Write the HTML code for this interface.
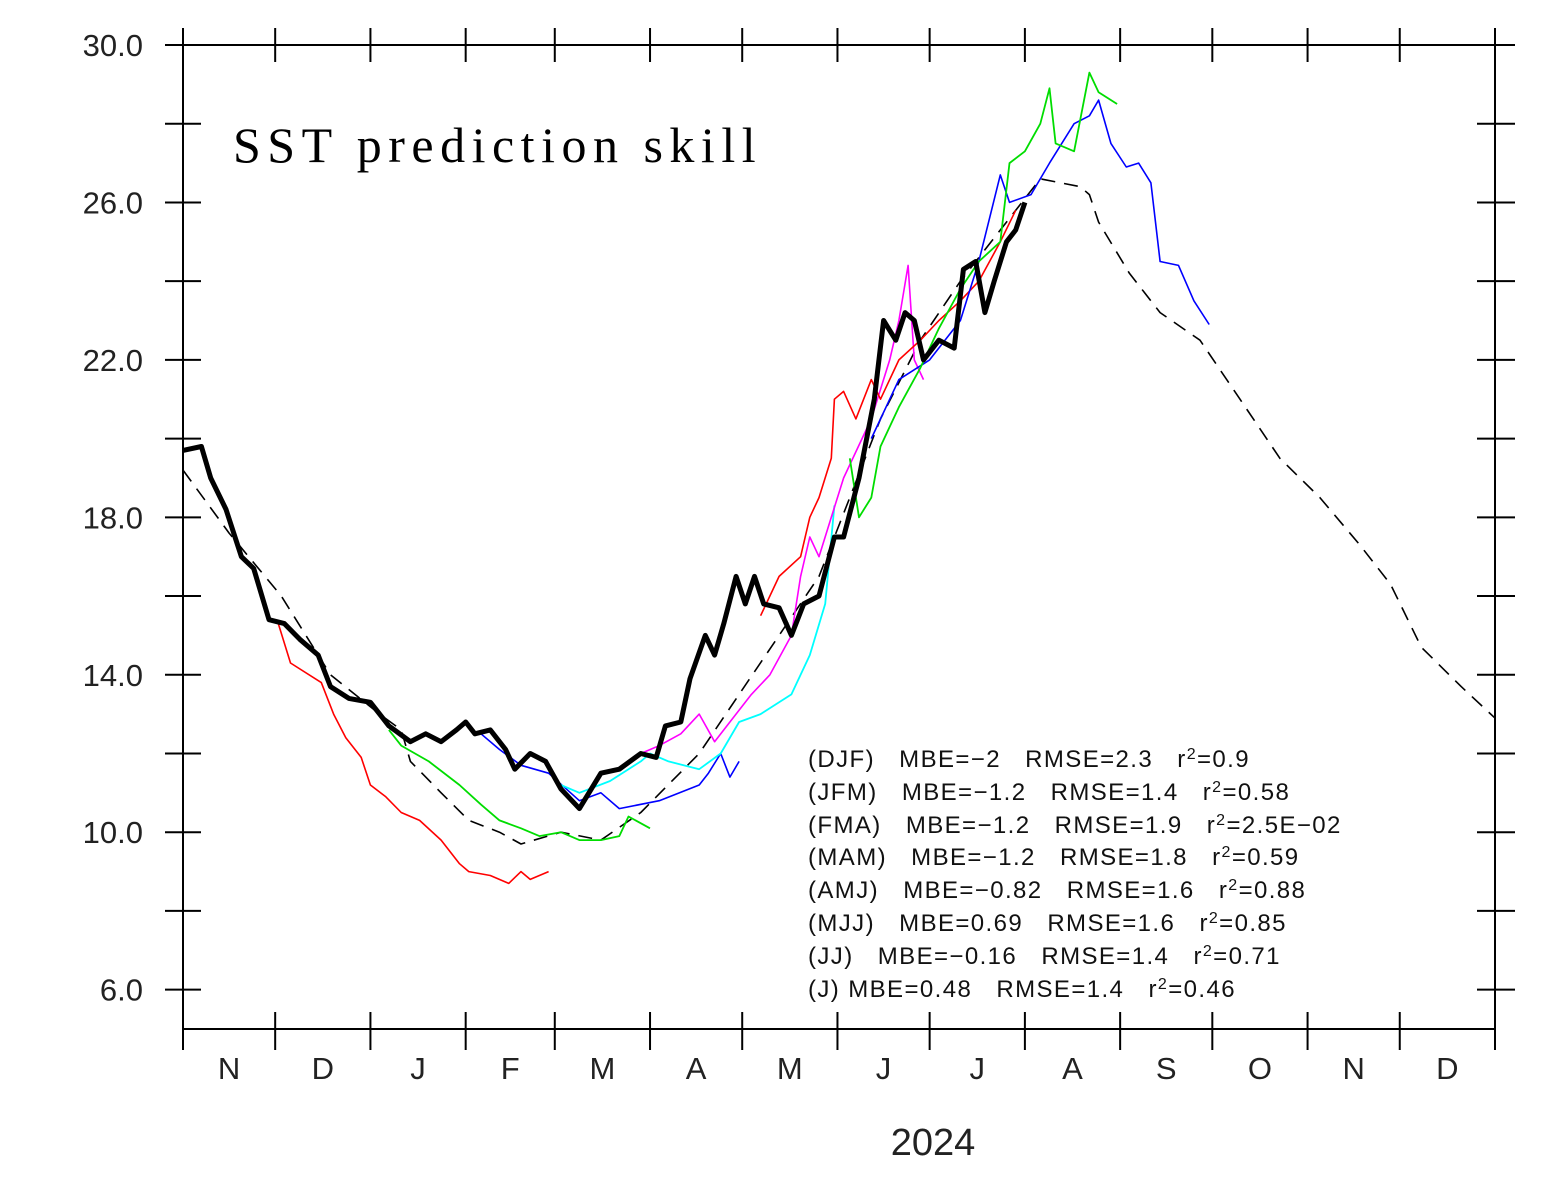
<!DOCTYPE html>
<html><head><meta charset="utf-8">
<style>
html,body{margin:0;padding:0;background:#fff;}
svg{display:block;font-family:"Liberation Sans",sans-serif;}
</style></head>
<body>
<svg id="chart" width="1556" height="1182" viewBox="0 0 1556 1182" xmlns="http://www.w3.org/2000/svg">
<rect x="0" y="0" width="1556" height="1182" fill="#fff"/>
<rect x="183" y="45" width="1312" height="984" fill="none" stroke="#000" stroke-width="2"/>
<text x="233" y="162" font-family="Liberation Serif, serif" font-size="50" letter-spacing="6.5">SST prediction skill</text>
<text x="933" y="1155" font-size="38" text-anchor="middle" fill="#222">2024</text>
<g id="ticks"></g>
<g id="series"></g>
<g font-size="24" fill="#111" letter-spacing="1.4">
<text x="808" y="767">(DJF)&#160;&#160; MBE=−2&#160;&#160; RMSE=2.3&#160;&#160; r<tspan dy="-8" font-size="16">2</tspan><tspan dy="8">=0.9</tspan></text>
<text x="808" y="800">(JFM)&#160;&#160; MBE=−1.2&#160;&#160; RMSE=1.4&#160;&#160; r<tspan dy="-8" font-size="16">2</tspan><tspan dy="8">=0.58</tspan></text>
<text x="808" y="833">(FMA)&#160;&#160; MBE=−1.2&#160;&#160; RMSE=1.9&#160;&#160; r<tspan dy="-8" font-size="16">2</tspan><tspan dy="8">=2.5E−02</tspan></text>
<text x="808" y="865">(MAM)&#160;&#160; MBE=−1.2&#160;&#160; RMSE=1.8&#160;&#160; r<tspan dy="-8" font-size="16">2</tspan><tspan dy="8">=0.59</tspan></text>
<text x="808" y="898">(AMJ)&#160;&#160; MBE=−0.82&#160;&#160; RMSE=1.6&#160;&#160; r<tspan dy="-8" font-size="16">2</tspan><tspan dy="8">=0.88</tspan></text>
<text x="808" y="931">(MJJ)&#160;&#160; MBE=0.69&#160;&#160; RMSE=1.6&#160;&#160; r<tspan dy="-8" font-size="16">2</tspan><tspan dy="8">=0.85</tspan></text>
<text x="808" y="964">(JJ)&#160;&#160; MBE=−0.16&#160;&#160; RMSE=1.4&#160;&#160; r<tspan dy="-8" font-size="16">2</tspan><tspan dy="8">=0.71</tspan></text>
<text x="808" y="997">(J) MBE=0.48&#160;&#160; RMSE=1.4&#160;&#160; r<tspan dy="-8" font-size="16">2</tspan><tspan dy="8">=0.46</tspan></text>
</g>
</svg>
<script>
const yTicks = [6,10,14,18,22,26,30];
const yTickLabels = ["6.0","10.0","14.0","18.0","22.0","26.0","30.0"];
const monthLabels = ["N","D","J","F","M","A","M","J","J","A","S","O","N","D"];
const monthStarts = [0,30,61,92,121,152,182,213,243,274,305,335,366,396,427];

const obsDays = [0,6,9,14,19,23,28,33,38,44,48,54,61,67,74,79,84,89,92,95,100,105,108,113,118,123,129,136,142,149,154,157,162,165,170,173,176,180,183,186,189,194,198,202,207,212,215,220,225,228,232,235,238,241,246,251,254,258,261,264,268,271,274];
const obsVals = [19.7,19.8,19.0,18.2,17.0,16.7,15.4,15.3,14.9,14.5,13.7,13.4,13.3,12.7,12.3,12.5,12.3,12.6,12.8,12.5,12.6,12.1,11.6,12.0,11.8,11.1,10.6,11.5,11.6,12.0,11.9,12.7,12.8,13.9,15.0,14.5,15.3,16.5,15.8,16.5,15.8,15.7,15.0,15.8,16.0,17.5,17.5,19.0,21.0,23.0,22.5,23.2,23.0,22.0,22.5,22.3,24.3,24.5,23.2,24.0,25.0,25.3,26.0];
const climDays = [0,15,32,48,64,71,74,84,93,103,110,123,136,149,168,181,194,207,217,227,240,253,266,279,292,295,298,308,318,331,344,357,370,383,393,403,416,427];
const climVals = [19.2,17.6,16.0,14.0,13.0,12.6,11.8,11.0,10.3,10.0,9.7,10.0,9.8,10.5,12.0,13.5,15.0,16.5,18.5,20.5,22.5,24.0,25.3,26.6,26.4,26.2,25.5,24.2,23.2,22.5,21.0,19.5,18.5,17.3,16.3,14.7,13.7,12.9];
const red1Days = [31,35,45,49,53,58,61,66,71,77,84,90,93,100,106,110,113,119];
const red1Vals = [15.3,14.3,13.8,13.0,12.4,11.9,11.2,10.9,10.5,10.3,9.8,9.2,9.0,8.9,8.7,9.0,8.8,9.0];
const red2Days = [188,194,201,204,207,211,212,215,219,224,227,233,240,246,253,259,266,271];
const red2Vals = [15.5,16.5,17.0,18.0,18.5,19.5,21.0,21.2,20.5,21.5,21.0,22.0,22.5,23.0,23.5,24.0,25.0,25.8];
const green1Days = [67,71,80,90,97,103,110,116,123,129,136,142,145,152];
const green1Vals = [12.6,12.2,11.8,11.2,10.7,10.3,10.1,9.9,10.0,9.8,9.8,9.9,10.4,10.1];
const green2Days = [217,220,224,227,233,240,246,253,259,266,269,274,279,282,284,290,295,298,304];
const green2Vals = [19.5,18.0,18.5,19.8,20.8,21.8,22.8,23.8,24.5,25.0,27.0,27.3,28.0,28.9,27.5,27.3,29.3,28.8,28.5];
const blue1Days = [97,103,110,119,129,136,142,155,168,171,175,178,181];
const blue1Vals = [12.5,12.1,11.7,11.5,10.8,11.0,10.6,10.8,11.2,11.5,12.0,11.4,11.8];
const blue2Days = [224,233,243,253,259,266,269,276,282,290,295,298,302,307,311,315,318,324,329,334];
const blue2Vals = [20.0,21.5,22.0,23.0,24.5,26.7,26.0,26.2,27.0,28.0,28.2,28.6,27.5,26.9,27.0,26.5,24.5,24.4,23.5,22.9];
const magDays = [149,155,162,168,173,178,185,191,198,201,204,207,211,215,224,230,233,236,238,241];
const magVals = [12.0,12.2,12.5,13.0,12.3,12.8,13.5,14.0,15.0,16.5,17.5,17.0,18.0,19.0,20.5,22.0,23.0,24.4,22.0,21.5];
const cyanDays = [123,129,139,149,152,158,168,175,181,188,198,204,209,212];
const cyanVals = [11.2,11.0,11.3,11.8,12.0,11.8,11.6,12.0,12.8,13.0,13.5,14.5,15.8,18.3];

const X0=183, X1=1495, Y0=1029, Y1=45, DMAX=427, VMIN=5, VMAX=30;
function xs(d){return X0+(d/DMAX)*(X1-X0);}
function ys(v){return Y0-(v-VMIN)/(VMAX-VMIN)*(Y0-Y1);}
const NS="http://www.w3.org/2000/svg";
const tg=document.getElementById('ticks');
const sg=document.getElementById('series');
function mk(tag,attrs,parent){const e=document.createElementNS(NS,tag);for(const k in attrs)e.setAttribute(k,attrs[k]);parent.appendChild(e);return e;}

for(let v=6; v<=30; v+=2){
  const y=ys(v);
  const l=mk('line',{x1:165,x2:201,y1:y,y2:y,stroke:'#000','stroke-width':2},tg);
  
  
  const r=mk('line',{x1:1477,x2:1515,y1:y,y2:y,stroke:'#000','stroke-width':2},tg);
  
  
}
yTicks.forEach((v,i)=>{
  const t=mk('text',{x:143,y:ys(v)+11,'text-anchor':'end','font-size':31,fill:'#222'},tg);
  t.textContent=yTickLabels[i];
  
  
});
monthStarts.forEach(d=>{
  const x=xs(d);
  const a=mk('line',{x1:x,x2:x,y1:28,y2:62,stroke:'#000','stroke-width':2},tg);
  
  
  const b=mk('line',{x1:x,x2:x,y1:1012,y2:1050,stroke:'#000','stroke-width':2},tg);
  
  
});
monthLabels.forEach((m,i)=>{
  const x=(xs(monthStarts[i])+xs(monthStarts[i+1]))/2;
  const t=mk('text',{x:x,y:1079,'text-anchor':'middle','font-size':31,fill:'#222'},tg);
  t.textContent=m;
  
  
});
function line(days,vals,color,w,name,dash){
  const n=Math.min(days.length,vals.length);
  let d='';
  for(let i=0;i<n;i++) d+=(i?'L':'M')+xs(days[i]).toFixed(1)+' '+ys(vals[i]).toFixed(1);
  const p=mk('path',{d:d,fill:'none',stroke:color,'stroke-width':w,'stroke-linejoin':'round'},sg);
  if(dash)p.setAttribute('stroke-dasharray',dash);
  
  
}
line(climDays,climVals,'#000',1.6,'climatology-dashed-line','14 9');
line(red1Days,red1Vals,'#f00',1.6,'red-forecast-1');
line(green1Days,green1Vals,'#0d0',1.8,'green-forecast-1');
line(blue1Days,blue1Vals,'#00f',1.6,'blue-forecast-1');
line(cyanDays,cyanVals,'#0ff',1.8,'cyan-forecast');
line(magDays,magVals,'#f0f',1.6,'magenta-forecast');
line(red2Days,red2Vals,'#f00',1.6,'red-forecast-2');
line(blue2Days,blue2Vals,'#00f',1.6,'blue-forecast-2');
line(green2Days,green2Vals,'#0d0',1.8,'green-forecast-2');
line(obsDays,obsVals,'#000',5,'observed-sst-line');
</script>
</body></html>
